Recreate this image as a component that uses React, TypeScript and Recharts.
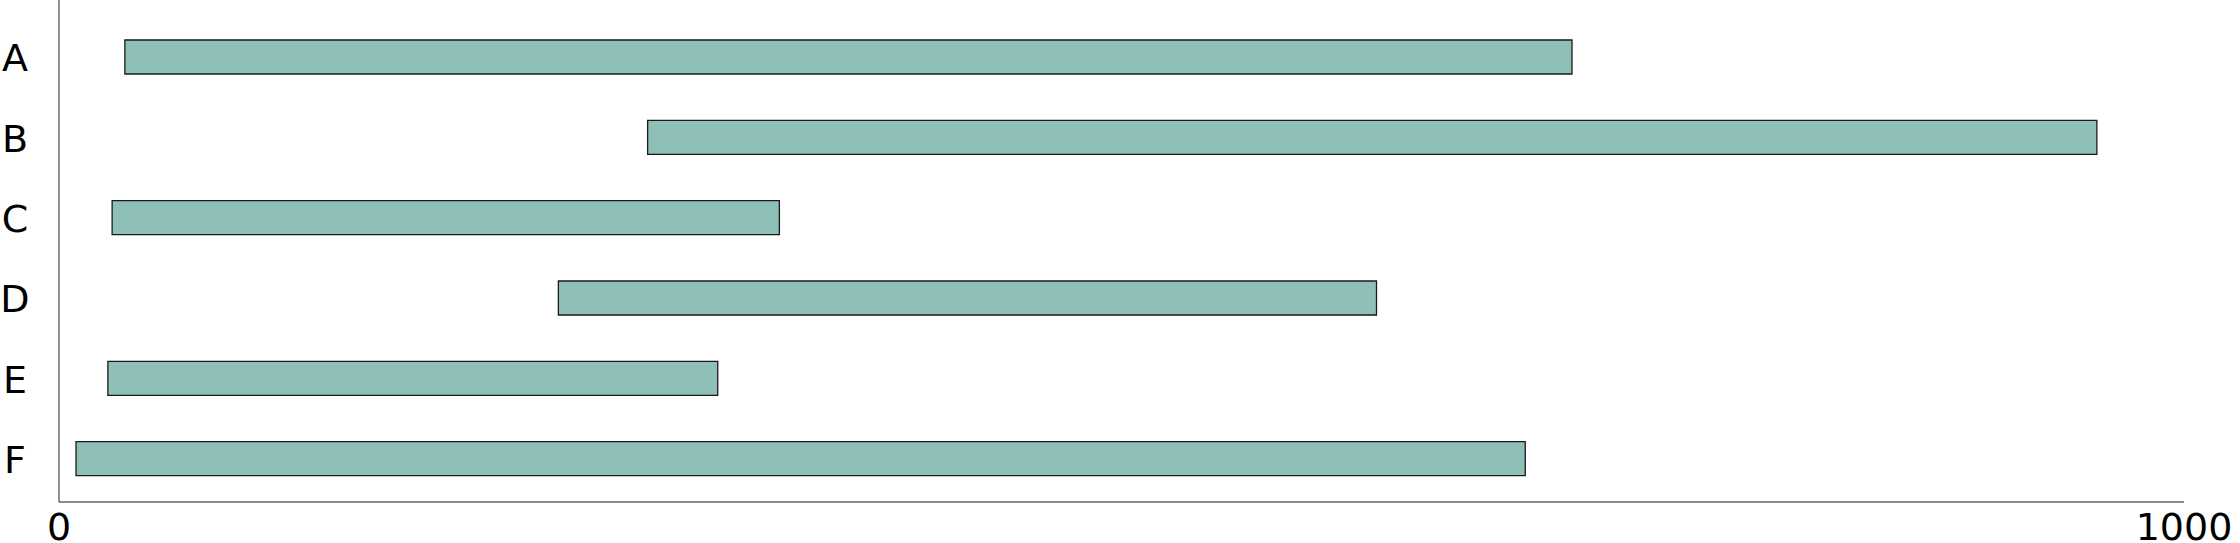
import { BarChart, Bar, XAxis, YAxis } from 'recharts';

const categories = ['A', 'B', 'C', 'D', 'E', 'F'];
const starts = [31, 277, 25, 235, 23, 8];
const ends = [712, 959, 339, 620, 310, 690];
const xTicks = [0, 1000];

const FONT = '"DejaVu Sans", sans-serif';
const FONT_SIZE = 38;

function YTick({ x, y, payload }: any) {
  return (
    <text x={x} y={y} dy={14} textAnchor="middle" fontFamily={FONT} fontSize={FONT_SIZE} fill="#000">
      {payload.value}
    </text>
  );
}

function XTick({ x, y, payload }: any) {
  return (
    <text x={x} y={y} dy={27} textAnchor="middle" fontFamily={FONT} fontSize={FONT_SIZE} fill="#000">
      {payload.value}
    </text>
  );
}

export default function App() {
  const data = categories.map((name, i) => ({ name, span: [starts[i], ends[i]] }));

  return (
    <div style={{ position: 'absolute', left: 0, top: 0, width: 2240, height: 543, background: '#fff' }}>
      <BarChart
        width={2240}
        height={543}
        data={data}
        layout="vertical"
        margin={{ top: 0, right: 56, bottom: 0, left: 0 }}
      >
        <XAxis
          type="number"
          domain={[0, 1000]}
          ticks={xTicks}
          height={41}
          tickSize={0}
          tickMargin={11}
          tickLine={false}
          axisLine={{ stroke: '#666', strokeWidth: 1.3 }}
          tick={<XTick />}
        />
        <YAxis
          type="category"
          dataKey="name"
          width={59}
          padding={{ top: 17, bottom: 3 }}
          tickSize={0}
          tickMargin={44}
          tickLine={false}
          axisLine={{ stroke: '#222', strokeWidth: 1 }}
          tick={<YTick />}
        />
        <Bar
          dataKey="span"
          fill="#8FC0B7"
          stroke="#1a1a1a"
          strokeWidth={1.3}
          barSize={34}
          isAnimationActive={false}
        />
      </BarChart>
    </div>
  );
}
